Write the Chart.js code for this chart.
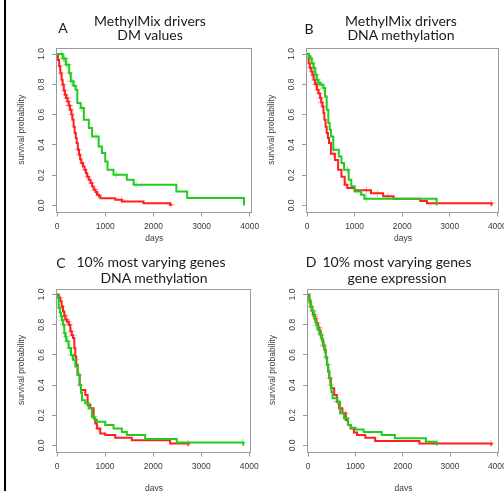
<!DOCTYPE html>
<html lang="en">
<head>
<meta charset="UTF-8">
<title>Survival curves</title>
<style>
    body {
        margin: 0;
        background: #fff;
        width: 504px;
        height: 491px;
        overflow: hidden;
        position: relative;
        font-family: Lato, 'Open Sans', sans-serif;
    }
    .frame {
        position: absolute;
        left: 4px;
        top: 0;
        width: 2px;
        height: 491px;
        background: #000;
    }
    canvas {
        position: absolute;
    }
    .lbl {
        position: absolute;
        transform: translate(-50%, -50%);
        font-size: 14px;
        color: #1a1a1a;
        white-space: nowrap;
    }
</style>
<script src="https://cdn.jsdelivr.net/npm/chart.js"></script>
</head>
<body>
<div class="frame"></div>
<canvas id="chartA" width="270" height="245" style="left:0;top:0"></canvas>
<canvas id="chartB" width="252" height="245" style="left:252px;top:0"></canvas>
<canvas id="chartC" width="270" height="252" style="left:0;top:245px"></canvas>
<canvas id="chartD" width="252" height="252" style="left:252px;top:245px"></canvas>

<div class="lbl" style="left:63px;top:27px">A</div>
<div class="lbl" style="left:150px;top:20px">MethylMix drivers</div>
<div class="lbl" style="left:150px;top:34px">DM values</div>

<div class="lbl" style="left:309px;top:28px">B</div>
<div class="lbl" style="left:401px;top:20px">MethylMix drivers</div>
<div class="lbl" style="left:401px;top:34px">DNA methylation</div>

<div class="lbl" style="left:61px;top:262px">C</div>
<div class="lbl" style="left:151px;top:261px">10% most varying genes</div>
<div class="lbl" style="left:154px;top:277px">DNA methylation</div>

<div class="lbl" style="left:311px;top:261px">D</div>
<div class="lbl" style="left:397px;top:261px">10% most varying genes</div>
<div class="lbl" style="left:397px;top:277px">gene expression</div>

<script>
// axes
const xTicks = [0, 1000, 2000, 3000, 4000];
const yTicks = [0, 0.2, 0.4, 0.6, 0.8, 1.0];
const xMax = 4035;

// A: MethylMix drivers, DM values
const aRedDays = [0, 20, 45, 68, 95, 116, 140, 163, 190, 218, 245, 272, 300, 320, 345, 367, 390, 408, 432, 456, 480, 503, 540, 571, 600, 626, 660, 694, 730, 762, 800, 830, 870, 900, 1207, 1345, 1794, 2346, 2370];
const aRedSurv = [1, 0.96, 0.92, 0.874, 0.83, 0.797, 0.76, 0.731, 0.71, 0.687, 0.66, 0.632, 0.6, 0.566, 0.52, 0.478, 0.445, 0.412, 0.37, 0.335, 0.305, 0.28, 0.258, 0.236, 0.212, 0.19, 0.17, 0.148, 0.125, 0.104, 0.088, 0.071, 0.06, 0.048, 0.037, 0.026, 0.015, 0.004, 0];
const aRedCens = [55, 85, 130, 160, 175, 200, 215, 230, 245, 260, 280, 300, 440, 470, 520, 580, 640, 720, 790, 860, 1340, 2360];
const aGreenDays = [0, 120, 184, 252, 286, 340, 388, 422, 490, 557, 660, 728, 864, 932, 1000, 1048, 1172, 1449, 1590, 2476, 2701, 3880];
const aGreenSurv = [1, 0.97, 0.93, 0.875, 0.82, 0.79, 0.764, 0.676, 0.643, 0.566, 0.511, 0.456, 0.39, 0.346, 0.29, 0.236, 0.203, 0.17, 0.137, 0.092, 0.049, 0];
const aGreenCens = [90, 130, 150, 170, 200, 230, 260, 290, 330, 360, 520, 810, 1230, 1640];

// B: MethylMix drivers, DNA methylation
const bRedDays = [0, 34, 60, 90, 115, 138, 170, 207, 240, 276, 300, 324, 345, 365, 390, 414, 440, 462, 503, 586, 655, 724, 793, 848, 1000, 1345, 1600, 1820, 2380, 2520, 3880];
const bRedSurv = [1, 0.94, 0.91, 0.885, 0.86, 0.83, 0.8, 0.764, 0.74, 0.709, 0.68, 0.654, 0.61, 0.566, 0.52, 0.478, 0.445, 0.412, 0.341, 0.3, 0.236, 0.19, 0.137, 0.115, 0.1, 0.08, 0.06, 0.045, 0.03, 0.015, 0];
const bRedCens = [60, 100, 130, 160, 180, 200, 230, 260, 280, 300, 340, 560, 820, 1250, 1480, 1700, 3870];
const bGreenDays = [0, 40, 69, 100, 138, 172, 207, 240, 276, 345, 379, 414, 448, 476, 503, 552, 669, 724, 779, 876, 931, 1000, 1138, 1207, 2724];
const bGreenSurv = [1, 0.985, 0.97, 0.94, 0.907, 0.863, 0.83, 0.81, 0.797, 0.775, 0.72, 0.632, 0.544, 0.5, 0.456, 0.368, 0.324, 0.28, 0.236, 0.17, 0.126, 0.092, 0.07, 0.044, 0];
const bGreenCens = [40, 80, 110, 150, 190, 220, 250, 310, 350, 850, 1250];

// C: 10% most varying genes, DNA methylation
const cRedDays = [0, 35, 69, 97, 125, 150, 173, 210, 242, 277, 305, 332, 360, 380, 401, 429, 471, 498, 588, 637, 692, 761, 795, 830, 900, 1003, 1211, 1557, 2353, 2733];
const cRedSurv = [1, 0.978, 0.956, 0.92, 0.89, 0.86, 0.834, 0.82, 0.8, 0.756, 0.73, 0.712, 0.645, 0.59, 0.534, 0.468, 0.4, 0.368, 0.335, 0.268, 0.246, 0.18, 0.145, 0.113, 0.08, 0.069, 0.051, 0.035, 0.013, 0];
const cRedCens = [60, 100, 150, 170, 200, 230, 260, 300, 330, 480, 860, 2720];
const cGreenDays = [0, 15, 35, 60, 83, 105, 125, 152, 175, 194, 242, 291, 332, 381, 429, 471, 500, 519, 588, 657, 727, 780, 830, 1003, 1176, 1349, 1453, 1834, 2491, 3875];
const cGreenSurv = [1, 0.978, 0.911, 0.88, 0.856, 0.83, 0.8, 0.745, 0.72, 0.69, 0.645, 0.6, 0.568, 0.523, 0.468, 0.4, 0.35, 0.3, 0.28, 0.246, 0.19, 0.17, 0.157, 0.135, 0.113, 0.09, 0.069, 0.042, 0.02, 0];
const cGreenCens = [50, 90, 110, 140, 160, 190, 220, 260, 300, 380, 460, 650, 770, 3865];

// D: 10% most varying genes, gene expression
const dRedDays = [0, 30, 55, 80, 104, 140, 173, 208, 242, 270, 291, 320, 346, 375, 401, 425, 450, 484, 554, 609, 657, 727, 796, 844, 900, 969, 1038, 1211, 1419, 2353, 3875];
const dRedSurv = [1, 0.96, 0.922, 0.895, 0.867, 0.84, 0.811, 0.78, 0.756, 0.73, 0.7, 0.665, 0.634, 0.585, 0.534, 0.49, 0.446, 0.379, 0.335, 0.29, 0.246, 0.213, 0.169, 0.135, 0.113, 0.086, 0.069, 0.051, 0.029, 0.013, 0];
const dRedCens = [60, 100, 130, 170, 200, 240, 280, 320, 380, 460, 620, 790, 3865];
const dGreenDays = [0, 15, 35, 60, 83, 120, 152, 180, 208, 240, 277, 305, 332, 355, 381, 405, 429, 450, 471, 495, 519, 623, 678, 761, 844, 900, 1003, 1176, 1557, 1834, 2491, 2720];
const dGreenSurv = [1, 0.97, 0.945, 0.915, 0.89, 0.855, 0.823, 0.795, 0.767, 0.74, 0.712, 0.685, 0.656, 0.62, 0.579, 0.535, 0.49, 0.445, 0.4, 0.355, 0.313, 0.29, 0.213, 0.18, 0.135, 0.118, 0.106, 0.09, 0.069, 0.047, 0.024, 0];
const dGreenCens = [40, 80, 110, 150, 190, 230, 260, 300, 340, 420, 480, 820];

const RED = '#ff1f1f';
const GREEN = '#22cc1e';
const RED_MARK = 'rgba(255, 60, 60, 0.45)';
const GREEN_MARK = 'rgba(40, 200, 30, 0.45)';
const AXIS = '#9a9a9a';
const TEXT = '#3a3a3a';
const axisFont = { family: "'Liberation Sans', Arial, sans-serif", size: 8.5 };

// survival level at day t (for placing censor marks on the curve)
function survAt(days, surv, t) {
    let s = surv[0];
    for (let i = 0; i < days.length; i++) {
        if (days[i] <= t) s = surv[i];
    }
    return s;
}

function curve(days, surv, color) {
    return {
        data: days.map((d, i) => ({ x: d, y: surv[i] })),
        borderColor: color,
        borderWidth: 2,
        stepped: true,
        pointRadius: 0,
        fill: false
    };
}

function marks(cens, days, surv, color) {
    return {
        data: cens.map(t => ({ x: t, y: survAt(days, surv, t) })),
        showLine: false,
        pointStyle: 'cross',
        pointRadius: 3.5,
        borderColor: color,
        backgroundColor: color,
        borderWidth: 1
    };
}

const boxPlugin = {
    id: 'box',
    beforeDatasetsDraw(chart) {
        const { ctx, chartArea: a } = chart;
        ctx.save();
        ctx.strokeStyle = AXIS;
        ctx.lineWidth = 1;
        ctx.strokeRect(Math.round(a.left) - 0.5, Math.round(a.top) + 0.5,
            Math.round(a.right - a.left), Math.round(a.bottom - a.top));
        ctx.restore();
    }
};

function makeChart(id, box, datasets) {
    return new Chart(document.getElementById(id), {
        type: 'line',
        data: { datasets: datasets },
        options: {
            responsive: false,
            animation: false,
            devicePixelRatio: 1,
            layout: { padding: { top: box.top, right: box.right, left: 0, bottom: 0 } },
            plugins: { legend: { display: false }, tooltip: { enabled: false } },
            scales: {
                x: {
                    type: 'linear',
                    min: 0,
                    max: xMax,
                    afterBuildTicks: s => { s.ticks = xTicks.map(v => ({ value: v })); },
                    afterFit: s => { s.height = box.xh; s.paddingLeft = 0; s.paddingRight = 0; },
                    grid: { drawOnChartArea: false, tickLength: 5, color: AXIS },
                    border: { display: false },
                    ticks: {
                        autoSkip: false,
                        maxRotation: 0,
                        padding: 5,
                        color: TEXT,
                        font: axisFont,
                        callback: v => String(v)
                    },
                    title: { display: true, text: 'days', color: TEXT, font: axisFont, padding: { top: 0, bottom: box.tb } }
                },
                y: {
                    type: 'linear',
                    min: -0.04,
                    max: 1.04,
                    afterBuildTicks: s => { s.ticks = yTicks.map(v => ({ value: v })); },
                    afterFit: s => { s.width = box.yw; s.paddingTop = 0; s.paddingBottom = 0; },
                    grid: { drawOnChartArea: false, tickLength: 5, color: AXIS },
                    border: { display: false },
                    ticks: {
                        minRotation: 90,
                        maxRotation: 90,
                        crossAlign: 'center',
                        padding: 4.4,
                        color: TEXT,
                        font: axisFont,
                        callback: v => v.toFixed(1)
                    },
                    title: {
                        display: true,
                        text: 'survival probability',
                        color: TEXT,
                        font: axisFont,
                        padding: { top: box.yw - 40.1, bottom: 0 }
                    }
                }
            }
        },
        plugins: [boxPlugin]
    });
}

makeChart('chartA', { yw: 57, xh: 33.5, top: 48, right: 18.5, tb: 1.6 }, [
    curve(aGreenDays, aGreenSurv, GREEN),
    marks(aGreenCens, aGreenDays, aGreenSurv, GREEN_MARK),
    curve(aRedDays, aRedSurv, RED),
    marks(aRedCens, aRedDays, aRedSurv, RED_MARK)
]);

makeChart('chartB', { yw: 55, xh: 33.5, top: 48, right: 3, tb: 1.6 }, [
    curve(bGreenDays, bGreenSurv, GREEN),
    marks(bGreenCens, bGreenDays, bGreenSurv, GREEN_MARK),
    curve(bRedDays, bRedSurv, RED),
    marks(bRedCens, bRedDays, bRedSurv, RED_MARK)
]);

makeChart('chartC', { yw: 57, xh: 45.5, top: 43.5, right: 19, tb: 3.6 }, [
    curve(cGreenDays, cGreenSurv, GREEN),
    marks(cGreenCens, cGreenDays, cGreenSurv, GREEN_MARK),
    curve(cRedDays, cRedSurv, RED),
    marks(cRedCens, cRedDays, cRedSurv, RED_MARK)
]);

makeChart('chartD', { yw: 56, xh: 45.5, top: 43.5, right: 3, tb: 3.6 }, [
    curve(dGreenDays, dGreenSurv, GREEN),
    marks(dGreenCens, dGreenDays, dGreenSurv, GREEN_MARK),
    curve(dRedDays, dRedSurv, RED),
    marks(dRedCens, dRedDays, dRedSurv, RED_MARK)
]);
</script>
</body>
</html>
